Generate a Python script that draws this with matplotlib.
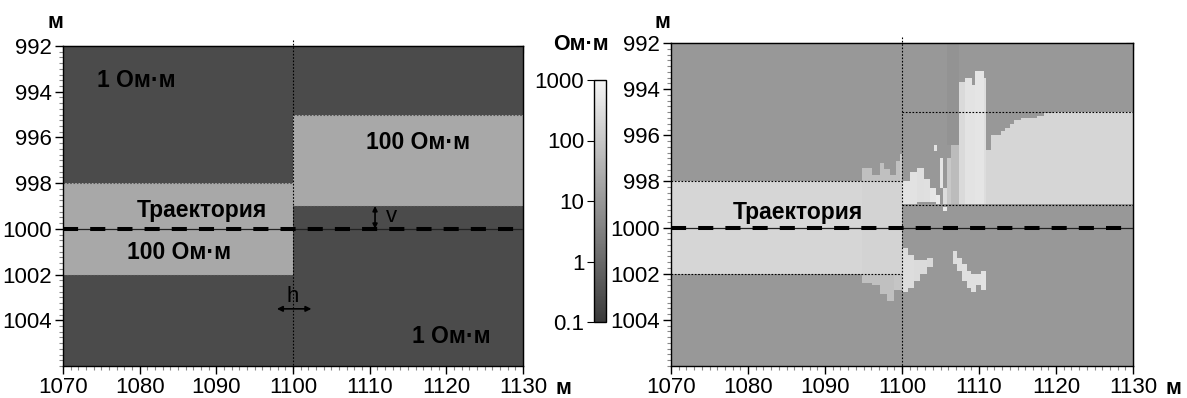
import numpy as np
import matplotlib
matplotlib.use("Agg")
import matplotlib.pyplot as plt
from matplotlib.colors import LogNorm, LinearSegmentedColormap
from matplotlib.ticker import MultipleLocator, FixedLocator, NullFormatter

plt.rcParams["font.family"] = ["Liberation Sans", "DejaVu Sans"]

# ---- data ----
x_range = (1070, 1130)
y_range = (992, 1006)
x_ticks = [1070, 1080, 1090, 1100, 1110, 1120, 1130]
y_ticks = [992, 994, 996, 998, 1000, 1002, 1004]
cbar_ticks = [0.1, 1, 10, 100, 1000]
cbar_labels = ["0.1", "1", "10", "100", "1000"]
trajectory_depth = 1000
boundary_x = 1100

# true model: background + blocks (x0, x1, y0, y1, Ohm*m)
model_bg = 1
model_blocks = [
    (1070, 1100, 998, 1002, 100),
    (1100, 1130, 995, 999, 100),
]

# inversion result: background + cells (x0, x1, y0, y1, Ohm*m)
inv_bg = 10
inv_blocks = [
    # main resistive layers
    (1070, 1100, 998, 1002, 218),
    (1110.9, 1130, 995, 999, 218),
    # lighter columns near the step, left side (above and below)
    (1094.8, 1096.1, 997.4, 998, 74), (1096.1, 1097.1, 997.7, 998, 74),
    (1097.1, 1097.7, 997.2, 998, 74), (1097.7, 1098.5, 997.45, 998, 74),
    (1098.5, 1099.2, 997.7, 998, 74), (1099.2, 1099.7, 997.1, 998, 74),
    (1099.7, 1100, 996.8, 998, 90),
    (1094.8, 1096.1, 1002, 1002.4, 74), (1096.1, 1097.1, 1002, 1002.5, 74),
    (1097.1, 1098.0, 1002, 1002.9, 74), (1098.0, 1099.0, 1002, 1003.2, 74),
    (1099.0, 1100, 1002, 1002.7, 90),
    (1094.8, 1100, 998, 1002, 190),
    # slightly darker strip before the tall column
    (1105.8, 1107.4, 992, 996.4, 8),
    # bright wedge right of the step, above the trajectory
    (1100.0, 1101.0, 998.0, 999.0, 420), (1101.0, 1102.0, 997.6, 999.0, 380),
    (1102.0, 1102.8, 997.4, 998.9, 330), (1102.8, 1103.6, 997.9, 998.9, 350),
    (1103.6, 1104.4, 998.3, 998.9, 500), (1104.4, 1105.0, 998.6, 999.0, 600),
    (1105.0, 1105.3, 997.0, 998.3, 450), (1105.3, 1105.8, 998.3, 999.0, 300),
    (1105.8, 1106.4, 997.0, 999.0, 110), (1106.4, 1107.4, 996.4, 999.0, 60),
    (1104.2, 1104.6, 996.4, 996.7, 420), (1105.3, 1105.8, 999.1, 999.3, 600),
    # tall resistive column
    (1107.4, 1108.2, 993.7, 999, 260), (1108.2, 1109.1, 993.5, 999, 420),
    (1109.1, 1109.5, 993.8, 999, 420), (1109.5, 1110.6, 993.2, 999, 450),
    (1110.6, 1110.9, 993.5, 999, 300),
    # top of right layer (steps)
    (1110.9, 1111.6, 995, 996.65, 10), (1111.6, 1112.9, 995, 996.0, 10),
    (1112.9, 1113.4, 995, 995.8, 10), (1113.4, 1114.0, 995, 995.7, 10),
    (1114.0, 1114.6, 995, 995.5, 10), (1114.6, 1115.5, 995, 995.35, 10),
    (1115.5, 1117.5, 995, 995.25, 10), (1117.5, 1118.5, 995, 995.15, 10),
    (1118.5, 1119.6, 995, 995.07, 10),
    # bright streaks below the trajectory
    (1100.0, 1100.8, 1000.9, 1002.8, 300), (1100.8, 1101.6, 1001.2, 1002.6, 300),
    (1101.6, 1102.4, 1001.4, 1002.3, 280), (1102.4, 1103.2, 1001.4, 1002.0, 280),
    (1103.2, 1104.0, 1001.3, 1001.7, 250),
    (1106.6, 1107.2, 1001.0, 1001.6, 300), (1107.2, 1107.8, 1001.3, 1001.9, 320),
    (1107.8, 1108.4, 1001.6, 1002.3, 340), (1108.4, 1109.0, 1001.9, 1002.6, 340),
    (1109.0, 1109.6, 1002.0, 1002.8, 360), (1109.6, 1110.2, 1002.0, 1002.5, 360),
    (1110.2, 1110.9, 1001.9, 1002.7, 380),
]


def make_grid(bg, blocks):
    xe = np.arange(x_range[0], x_range[1] + 0.001, 0.1)
    ye = np.arange(y_range[0], y_range[1] + 0.001, 0.05)
    xc = (xe[:-1] + xe[1:]) / 2
    yc = (ye[:-1] + ye[1:]) / 2
    z = np.full((len(yc), len(xc)), float(bg))
    for x0, x1, y0, y1, r in blocks:
        mx = (xc >= x0) & (xc < x1)
        my = (yc >= y0) & (yc < y1)
        z[np.ix_(my, mx)] = r
    return xe, ye, z


norm = LogNorm(vmin=0.1, vmax=1000)
cmap_model = LinearSegmentedColormap.from_list("model", ["#1c1c1c", "#d6d6d6"])
cmap_inv = LinearSegmentedColormap.from_list("inv", ["#3a3a3a", "#f5f5f5"])

W, H = 1187, 398
fig = plt.figure(figsize=(W / 100, H / 100), dpi=100)
ax1 = fig.add_axes([63 / W, 1 - 366 / H, 460 / W, 320 / H])
ax2 = fig.add_axes([671 / W, 1 - 366 / H, 462 / W, 323 / H])
cax = fig.add_axes([594 / W, 1 - 322 / H, 12 / W, 242 / H])

xe, ye, zm = make_grid(model_bg, model_blocks)
ax1.pcolormesh(xe, ye, zm, cmap=cmap_model, norm=norm, shading="flat")
xe, ye, zi = make_grid(inv_bg, inv_blocks)
ax2.pcolormesh(xe, ye, zi, cmap=cmap_inv, norm=norm, shading="flat")

for ax in (ax1, ax2):
    ax.set_xlim(*x_range)
    ax.set_ylim(y_range[1], y_range[0])
    ax.xaxis.set_major_locator(FixedLocator(x_ticks))
    ax.yaxis.set_major_locator(FixedLocator(y_ticks))
    ax.xaxis.set_minor_locator(MultipleLocator(1))
    ax.yaxis.set_minor_locator(MultipleLocator(0.25))
    ax.tick_params(which="major", direction="out", length=6, width=1,
                   labelsize=16, pad=2)
    ax.tick_params(which="minor", direction="out", length=3, width=0.8,
                   color="#888888")
    for s in ax.spines.values():
        s.set_linewidth(1)
    # inward ticks on top and right
    top = ax.secondary_xaxis("top")
    top.set_xticks(x_ticks)
    top.tick_params(direction="in", length=5, labeltop=False, color="#333333")
    right = ax.secondary_yaxis("right")
    right.set_yticks(y_ticks)
    right.tick_params(direction="in", length=5, labelright=False, color="#333333")
    # vertical step and trajectory
    ax.plot([boundary_x, boundary_x], [991.75, 1006.2], ls=(0, (1.5, 1.5)),
            color="black", lw=0.8, clip_on=False, zorder=4)
    ax.plot(x_range, [trajectory_depth] * 2, color="#222222", lw=0.9, zorder=4)
    ax.plot(x_range, [trajectory_depth] * 2, color="black", lw=2.9,
            dashes=(3.75, 3), zorder=5)

# block outlines
for x0, x1, y0, y1, r in model_blocks:
    for yy in (y0, y1):
        ax1.plot([x0, x1], [yy, yy], ls=(0, (1.5, 1.5)), color="#555555", lw=0.8)
        ax2.plot([x0, x1], [yy, yy], ls=(0, (1.5, 1.5)), color="black", lw=0.8)

bold = dict(fontsize=16.5, fontweight="bold", ha="center", va="center")
ax1.text(1079.6, 993.5, "1 Ом·м", **bold)
ax1.text(1116.3, 996.2, "100 Ом·м", **bold)
ax1.text(1088.1, 999.2, "Траектория", **bold)
ax1.text(1085.1, 1001.05, "100 Ом·м", **bold)
ax1.text(1120.7, 1004.7, "1 Ом·м", **bold)
ax2.text(1086.5, 999.35, "Траектория", **bold)

ax1.annotate("", xy=(1097.9, 1003.5), xytext=(1102.4, 1003.5),
             arrowprops=dict(arrowstyle="<|-|>", color="black", lw=1.2,
                             mutation_scale=8, shrinkA=0, shrinkB=0))
ax1.text(1099.9, 1002.95, "h", fontsize=16, ha="center", va="center")
ax1.annotate("", xy=(1110.7, 999.0), xytext=(1110.7, 1000.0),
             arrowprops=dict(arrowstyle="<|-|>", color="black", lw=1.2,
                             mutation_scale=7, shrinkA=0, shrinkB=0))
ax1.text(1112.9, 999.45, "v", fontsize=16, ha="center", va="center")

# colorbar
cb = fig.colorbar(plt.cm.ScalarMappable(norm=norm, cmap=cmap_inv), cax=cax)
cax.yaxis.set_ticks_position("left")
cax.yaxis.set_minor_formatter(NullFormatter())
cax.yaxis.set_minor_locator(FixedLocator([]))
cb.set_ticks(cbar_ticks)
cb.set_ticklabels(cbar_labels)
cax.tick_params(direction="out", length=5, labelsize=16, pad=2)
cb.outline.set_linewidth(1)

# unit labels
unit = dict(fontsize=15.5, fontweight="bold", ha="center", va="center")
fig.text(55 / W, 1 - 22 / H, "м", **unit)
fig.text(662 / W, 1 - 22 / H, "м", **unit)
fig.text(563 / W, 1 - 388 / H, "м", **unit)
fig.text(1173 / W, 1 - 388 / H, "м", **unit)
fig.text(581 / W, 1 - 45 / H, "Ом·м", **unit)

fig.savefig("out.png", dpi=100)
plt.close(fig)
